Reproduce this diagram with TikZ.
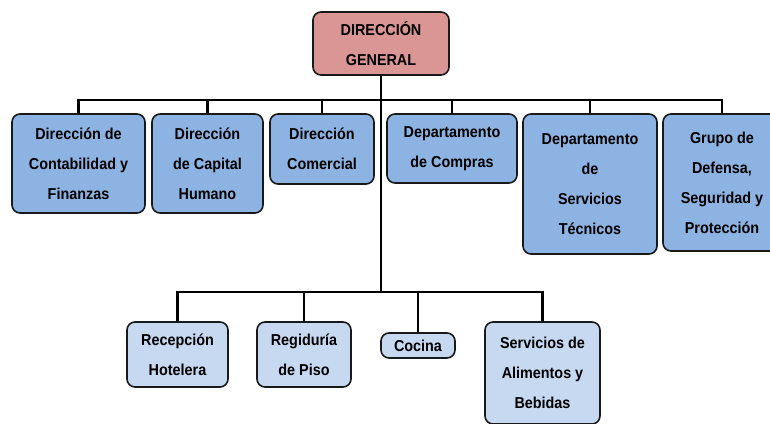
\documentclass[tikz,border=0pt]{standalone}
\usepackage{fontspec}
\setmainfont{Liberation Sans}[FakeStretch=0.91]
\usepackage{xcolor}
\usepackage{tikz}
\usetikzlibrary{positioning}

\definecolor{rojogen}{HTML}{D99694}
\definecolor{azuldir}{HTML}{8DB3E2}
\definecolor{azulsub}{HTML}{C6D9F1}

\tikzset{
  caja/.style={draw=black!90, line width=1.6pt, rounded corners=8pt, align=center,
    inner sep=2pt, font=\fontsize{15.8}{30}\selectfont\bfseries},
  jefe/.style={caja, fill=rojogen},
  dir/.style={caja, fill=azuldir},
  sub/.style={caja, fill=azulsub},
  linea/.style={line width=2.8pt}
}

\begin{document}
\begin{tikzpicture}[x=1pt, y=-1pt]
\useasboundingbox (0,0) rectangle (770,423);
% Direccion
\node[jefe, minimum width=136pt, minimum height=63pt] (g) at (381,43.5) {DIRECCIÓN\\GENERAL};
% Primer nivel
\node[dir, minimum width=133pt, minimum height=99pt] (d1) at (78.5,163.5) {Dirección de\\Contabilidad y\\Finanzas};
\node[dir, minimum width=111pt, minimum height=99pt] (d2) at (207.5,163.5) {Dirección\\de Capital\\Humano};
\node[dir, minimum width=104pt, minimum height=70pt] (d3) at (322,149) {Dirección\\Comercial};
\node[dir, minimum width=130pt, minimum height=69pt] (d4) at (452,148.5) {Departamento\\de Compras};
\node[dir, minimum width=134pt, minimum height=140pt] (d5) at (590,184) {Departamento\\de\\Servicios\\Técnicos};
\node[dir, minimum width=118pt, minimum height=137pt] (d6) at (722,182.5) {Grupo de\\Defensa,\\Seguridad y\\Protección};
% Segundo nivel
\node[sub, minimum width=101pt, minimum height=65pt] (s1) at (177.5,354.5) {Recepción\\Hotelera};
\node[sub, minimum width=94pt, minimum height=65pt] (s2) at (304,354.5) {Regiduría\\de Piso};
\node[sub, minimum width=74pt, minimum height=25pt] (s3) at (418,345.5) {Cocina};
\node[sub, minimum width=115pt, minimum height=102pt] (s4) at (542.5,373) {Servicios de\\Alimentos y\\Bebidas};
% Lineas
\coordinate (c1) at (381,100);
\coordinate (c2) at (381,292);
\draw[linea] (g.south) -- (c2);
\foreach \n in {d1,d2,d3,d4,d5,d6}
  \draw[linea] (c1) -| (\n.north);
\foreach \n in {s1,s2,s3,s4}
  \draw[linea] (c2) -| (\n.north);
\end{tikzpicture}
\end{document}
